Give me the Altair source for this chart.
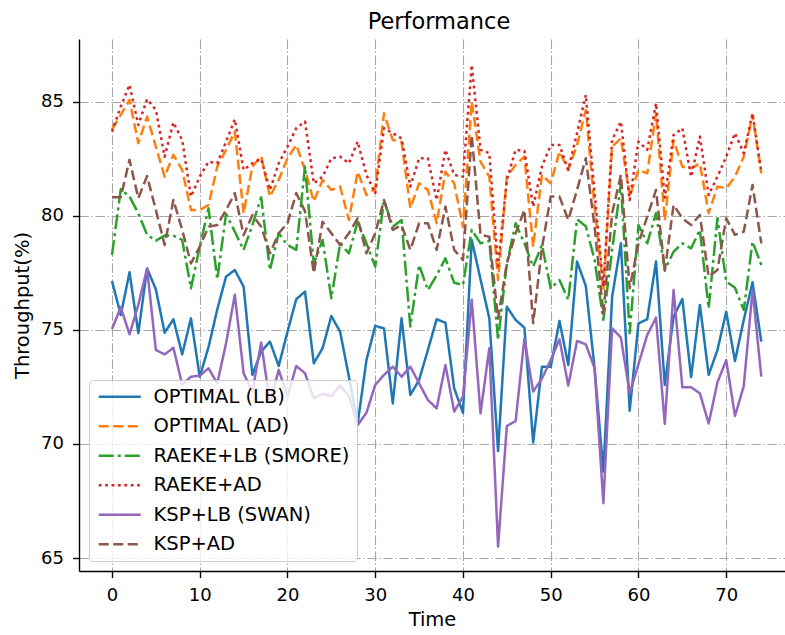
import altair as alt
import pandas as pd

# Time steps 0..74
time = list(range(75))

optimal_lb = [77.15, 75.66, 77.53, 74.86, 77.7, 76.78, 74.88, 75.47, 73.93, 75.51,
              72.95, 74.25, 75.9, 77.34, 77.63, 76.9, 73.03, 74.05, 74.49, 73.42,
              74.92, 76.35, 76.68, 73.54, 74.2, 75.61, 74.92, 72.95, 70.9, 73.68,
              75.18, 75.07, 71.78, 75.51, 72.15, 72.81, 74.12, 75.47, 75.32, 72.44,
              71.37, 78.95, 77.22, 75.51, 69.69, 76.02, 75.44, 75.1, 70.06, 73.39,
              73.39, 75.39, 73.46, 78.0, 76.93, 73.32, 68.79, 76.46, 78.8, 71.46,
              75.29, 75.47, 78.0, 72.59, 75.58, 76.36, 72.93, 76.1, 73.03, 74.12,
              75.8, 73.64, 75.44, 77.09, 74.49]

optimal_ad = [83.8, 84.43, 85.09, 83.19, 84.36, 83.04, 81.72, 82.68, 82.02, 80.26,
              80.26, 80.48, 82.16, 82.9, 83.7, 80.12, 82.16, 82.63, 80.85, 81.58,
              82.53, 83.11, 82.02, 80.63, 81.58, 81.14, 81.29, 79.82, 81.94, 80.92,
              81.21, 84.5, 83.33, 83.26, 80.34, 81.43, 81.14, 79.68, 81.94, 81.43,
              79.53, 85.0, 82.38, 81.72, 77.19, 81.72, 82.24, 82.6, 78.65, 81.8,
              81.43, 82.82, 82.02, 83.11, 84.65, 80.4, 76.75, 83.04, 83.4, 80.85,
              82.02, 81.87, 84.5, 79.8, 83.33, 82.16, 82.09, 82.31, 80.12, 81.29,
              81.21, 81.72, 82.6, 84.43, 81.87]

raeke_lb = [78.29, 81.17, 80.85, 80.12, 79.17, 78.92, 79.14, 79.14, 78.95, 76.83,
            78.65, 80.34, 77.22, 80.09, 79.31, 78.51, 79.6, 80.82, 77.63, 79.24,
            78.73, 78.51, 82.16, 77.9, 78.95, 76.39, 78.8, 78.36, 79.75, 78.8,
            77.78, 80.7, 79.53, 79.82, 75.15, 77.85, 76.75, 77.4, 78.14, 77.07,
            76.97, 79.39, 78.8, 78.9, 74.56, 77.92, 79.68, 78.8, 77.78, 78.73,
            76.83, 77.19, 76.32, 79.85, 79.55, 78.07, 75.44, 78.5, 81.43, 74.86,
            79.6, 78.8, 80.12, 77.63, 78.43, 78.8, 78.58, 79.39, 75.95, 79.9,
            77.12, 76.85, 75.88, 78.87, 77.85]

raeke_ad = [83.7, 84.8, 85.75, 83.99, 85.12, 84.65, 82.6, 84.1, 83.33, 80.85,
            81.72, 82.38, 82.31, 83.26, 84.24, 82.02, 82.31, 82.5, 81.14, 82.31,
            83.04, 83.85, 84.14, 81.43, 81.72, 82.53, 82.6, 82.31, 83.26, 81.8,
            81.0, 83.85, 83.63, 83.4, 81.29, 82.53, 82.53, 80.7, 82.9, 81.8,
            81.72, 86.62, 82.9, 82.75, 77.8, 81.58, 82.9, 82.85, 80.41, 82.16,
            83.11, 83.11, 82.02, 83.63, 85.31, 81.0, 76.9, 83.33, 84.14, 80.7,
            83.26, 82.9, 84.94, 80.8, 83.55, 83.85, 81.72, 83.48, 80.92, 81.72,
            82.6, 83.63, 82.75, 84.5, 81.94]

ksp_lb = [75.04, 75.99, 74.81, 76.1, 77.7, 74.12, 73.93, 74.22, 72.6, 72.95,
          73.0, 73.32, 72.66, 74.42, 76.54, 73.1, 72.3, 74.45, 71.8, 73.25,
          72.1, 73.42, 73.1, 72.0, 72.2, 72.1, 72.56, 72.1, 70.83, 71.37,
          72.59, 73.03, 73.39, 72.95, 73.39, 72.66, 71.93, 71.56, 73.46, 71.42,
          72.08, 76.32, 71.34, 74.2, 65.5, 70.79, 71.0, 74.62, 72.3, 72.87,
          73.68, 74.59, 72.56, 74.52, 74.37, 73.32, 67.4, 75.07, 74.66, 72.22,
          73.5, 74.78, 75.54, 70.88, 76.75, 72.49, 72.49, 72.22, 70.9, 72.7,
          73.68, 71.23, 72.54, 76.75, 72.95]

ksp_ad = [80.82, 80.82, 82.46, 80.78, 81.75, 80.26, 78.73, 80.7, 79.39, 77.92,
          78.65, 79.53, 79.6, 80.26, 81.0, 79.15, 80.04, 79.53, 78.36, 79.24,
          79.68, 81.0, 80.2, 77.49, 79.75, 79.24, 78.73, 79.24, 79.9, 78.36,
          79.24, 80.7, 79.39, 79.6, 78.51, 79.68, 79.68, 78.51, 80.41, 78.51,
          78.07, 83.55, 79.17, 79.09, 75.5, 77.92, 79.24, 80.26, 75.3, 78.6,
          80.85, 80.85, 79.82, 81.14, 82.53, 79.53, 75.7, 80.12, 81.8, 76.83,
          78.8, 79.97, 81.14, 77.6, 80.48, 79.9, 79.6, 80.04, 77.34, 77.63,
          79.9, 79.17, 79.31, 81.36, 78.8]

series_names = ["OPTIMAL (LB)", "OPTIMAL (AD)", "RAEKE+LB (SMORE)",
                "RAEKE+AD", "KSP+LB (SWAN)", "KSP+AD"]
series_values = [optimal_lb, optimal_ad, raeke_lb, raeke_ad, ksp_lb, ksp_ad]
colors = ["#1f77b4", "#ff7f0e", "#2ca02c", "#d62728", "#9467bd", "#8c564b"]
dashes = [[1, 0], [10, 4.5], [15, 4, 3, 4], [2.8, 3.6], [1, 0], [10, 4.5]]

x_ticks = [0, 10, 20, 30, 40, 50, 60, 70]
y_ticks = [65, 70, 75, 80, 85]

rows = []
for order, (name, vals) in enumerate(zip(series_names, series_values)):
    for t, v in zip(time, vals):
        rows.append({"Time": t, "Throughput": v, "Series": name, "order": order})
df = pd.DataFrame(rows)

FONT = "DejaVu Sans"

legend = alt.Legend(
    title=None,
    orient="none",
    legendX=10,
    legendY=341,
    labelFont=FONT,
    labelFontSize=19.5,
    labelColor="black",
    labelLimit=400,
    symbolType="M-3,0H3",
    symbolSize=196,
    symbolStrokeWidth=2.5,
    symbolOffset=14,
    labelOffset=24,
    rowPadding=8.5,
    padding=7,
    strokeColor="#cccccc",
    fillColor="rgba(255,255,255,0.8)",
    cornerRadius=4,
)

chart = alt.Chart(df).mark_line(strokeWidth=2.5, strokeJoin="round", clip=True).encode(
    x=alt.X("Time:Q",
            scale=alt.Scale(domain=[-3.76, 76.7], nice=False, zero=False),
            axis=alt.Axis(values=x_ticks, title="Time", labelPadding=9,
                          titlePadding=6)),
    y=alt.Y("Throughput:Q",
            scale=alt.Scale(domain=[64.43, 87.76], nice=False, zero=False),
            axis=alt.Axis(values=y_ticks, title="Throughput(%)", labelPadding=9,
                          titlePadding=8)),
    color=alt.Color("Series:N",
                    scale=alt.Scale(domain=series_names, range=colors),
                    legend=legend),
    strokeDash=alt.StrokeDash("Series:N",
                              scale=alt.Scale(domain=series_names, range=dashes),
                              legend=legend),
    order=alt.Order("order:Q"),
).properties(
    width=706,
    height=532,
    title=alt.TitleParams("Performance", font=FONT, fontSize=22.5,
                          fontWeight="normal", color="black", anchor="middle",
                          baseline="alphabetic", offset=11, dx=7, dy=23),
    padding={"left": 79, "top": 39, "right": 0, "bottom": 64},
    autosize="none",
    background="white",
).configure_view(
    stroke=None
).configure_axis(
    labelFont=FONT,
    labelFontSize=18,
    labelColor="black",
    titleFont=FONT,
    titleFontSize=19.5,
    titleFontWeight="normal",
    titleColor="black",
    domainColor="black",
    domainWidth=1.4,
    tickColor="black",
    tickWidth=1.4,
    tickSize=6.5,
    grid=True,
    gridColor="#a8a8a8",
    gridWidth=1.1,
    gridDash=[9.5, 2.5, 1.5, 2.5],
)

chart.save("out.html", embed_options={"renderer": "svg", "actions": False})
